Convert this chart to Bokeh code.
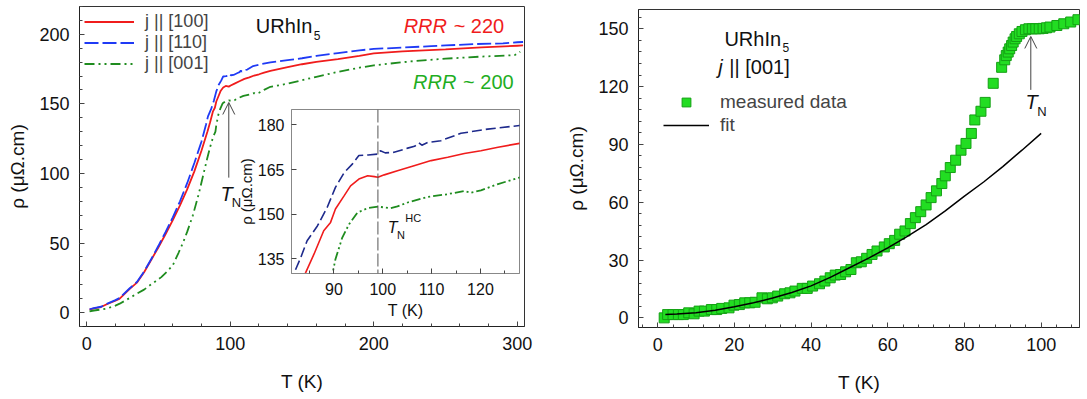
from bokeh.plotting import figure
from bokeh.models import (Range1d, SingleIntervalTicker, Legend, LegendItem, Arrow,
                          OpenHead, GridBox, Span, Row)
from bokeh.core.properties import value
from bokeh.embed import file_html
from bokeh.resources import INLINE

FONT = "Liberation Sans"

# ---------------- left panel data: rho(T) for three current directions ----------------
t_100 = [2, 5, 10, 14, 20, 23, 30, 35, 40, 45, 50, 55, 60, 65, 70, 75, 80, 84.2, 85.9, 87.9,
         89.3, 90.3, 92.1, 93.4, 95.1, 96.9, 98.3, 99, 100.3, 103, 106.4, 109.9, 113.3, 116.7,
         120.1, 123.6, 128, 140, 150, 160, 175, 190, 200, 220, 250, 275, 300, 304]
r_100 = [2.2, 3.0, 4.0, 6.0, 8.5, 10.0, 17.0, 21.5, 29.0, 38.0, 47.0, 56.5, 66.5, 77.0, 88.5,
         101.5, 116.5, 130.3, 136.5, 144.4, 147.2, 151.7, 156.2, 159.5, 161.8, 162.9, 162.6,
         162.4, 163.2, 164.6, 166.3, 168.0, 169.1, 170.4, 171.3, 172.5, 173.8, 176.5, 178.5,
         180.2, 182.2, 184.5, 186.3, 187.8, 189.2, 190.6, 191.8, 192.0]

t_110 = [2, 5, 10, 14, 20, 23, 30, 35, 40, 45, 50, 55, 60, 65, 70, 75, 80, 81.8, 83.2, 84.5,
         86.6, 88.6, 90.3, 92.1, 93.8, 95.1, 97, 99, 99.5, 100.5, 102.3, 105.1, 106.5, 107.4,
         108, 109.2, 111.9, 116, 121.5, 128, 140, 150, 160, 175, 190, 200, 220, 240, 250, 270,
         290, 300, 304]
r_110 = [2.4, 3.2, 4.2, 6.3, 9.0, 10.5, 17.5, 22.0, 29.5, 38.5, 48.0, 58.0, 68.5, 80.0, 93.0,
         107.5, 123.0, 130.0, 135.4, 141.0, 146.0, 152.2, 159.0, 164.0, 166.9, 169.7, 169.9,
         170.2, 171.3, 170.6, 170.8, 172.2, 172.8, 174.0, 173.2, 174.1, 174.7, 177.2, 178.6,
         179.8, 181.5, 182.8, 184.5, 186.5, 188.5, 189.5, 190.5, 191.5, 192.0, 193.0, 193.5,
         194.3, 194.5]

t_001 = [2, 5, 10, 14, 20, 23, 30, 35, 40, 44, 48, 52, 56, 60, 64, 67, 70, 74, 78, 81, 84, 86,
         88, 89.7, 90.3, 91.7, 93.1, 94.8, 96.9, 99, 101.6, 103, 105.1, 109.2, 113.3, 116.7,
         118, 120.1, 123.6, 128, 140, 150, 160, 175, 190, 200, 225, 250, 275, 298, 302]
r_001 = [0.8, 1.5, 2.2, 2.9, 5.0, 6.4, 10.5, 13.6, 16.5, 19.6, 22.5, 25.5, 29.5, 34.0, 43.0,
         50.0, 58.0, 70.0, 85.0, 98.0, 111.0, 119.0, 126.0, 130.0, 134.8, 142.1, 146.6, 150.5,
         152.0, 152.5, 152.0, 152.6, 153.9, 155.8, 156.7, 157.8, 157.2, 158.0, 160.1, 162.3,
         164.5, 167.0, 169.5, 173.0, 176.0, 177.7, 180.5, 182.5, 184.0, 185.0, 187.5]

# ---------------- right panel data: j || [001], measured + fit ----------------
t_meas = [1.7, 2.6, 4.0, 5.4, 6.7, 8.1, 9.5, 10.8, 12.2, 14.0, 15.4, 16.7, 18.6, 19.9, 21.3,
          22.7, 24.0, 25.4, 27.2, 28.6, 29.9, 31.3, 33.1, 34.5, 35.8, 37.7, 39.0, 40.4, 42.2,
          43.6, 45.0, 46.3, 47.7, 49.0, 50.4, 51.8, 53.1, 54.5, 55.9, 57.2, 59.1, 60.4, 61.8,
          63.1, 64.5, 65.9, 67.2, 68.6, 70.0, 71.3, 72.7, 74.1, 75.0, 76.3, 77.7, 79.1, 80.4,
          81.8, 82.7, 84.3, 85.4, 87.5, 89.7, 90.5, 90.9, 91.4, 91.8, 92.3, 92.7, 93.2, 93.6,
          94.3, 95.0, 95.9, 96.8, 97.7, 98.6, 99.5, 100.5, 101.4, 102.3, 104.1, 105.9, 107.7,
          109.6]
r_meas = [0.0, 1.7, 1.7, 1.7, 1.7, 2.6, 2.1, 3.5, 3.5, 4.3, 4.3, 4.9, 5.2, 6.6, 6.9, 7.8, 7.8,
          8.1, 10.4, 9.9, 10.4, 11.3, 12.5, 13.0, 13.9, 15.3, 15.3, 16.5, 17.7, 19.1, 20.8,
          22.2, 22.5, 23.9, 25.1, 28.6, 29.1, 30.9, 32.9, 34.7, 36.8, 38.5, 40.2, 43.4, 45.1,
          48.9, 52.0, 55.1, 58.6, 62.4, 65.9, 69.7, 73.7, 78.0, 81.8, 87.0, 90.5, 95.7, 102.7,
          107.2, 111.8, 121.7, 130.0, 133.9, 136.1, 137.9, 139.6, 141.3, 143.1, 144.8, 146.0,
          147.4, 148.6, 149.5, 150.0, 150.0, 150.0, 150.0, 150.2, 150.5, 150.9, 151.7, 152.6,
          153.5, 154.7]

t_fit = [2, 5, 10, 15, 20, 25, 30, 35, 40, 45, 50, 55, 60, 65, 70, 75, 80, 85, 90, 95, 100]
r_fit = [1.7, 2.0, 2.7, 4.0, 5.8, 7.8, 10.3, 13.2, 16.6, 21.0, 26.0, 31.0, 36.3, 42.2, 48.4,
         55.5, 63.2, 70.5, 78.5, 87.0, 95.7]

T_NEEL_HC = 99

RED = "#f01c1c"
BLUE = "#1f3af5"
NAVY = "#1e2a8c"
GREEN = "#1f8c1f"
LIME = "#22dd22"
LIME_EDGE = "#14a014"
AXC = "#222222"
TXT = "#111111"


def style(p, tick_fs, lab_fs, xstand=18, ystand=8):
    p.toolbar_location = None
    p.xgrid.visible = False
    p.ygrid.visible = False
    p.outline_line_color = "#333333"
    p.outline_line_width = 1
    p.background_fill_color = "white"
    for ax in list(p.xaxis) + list(p.yaxis):
        ax.major_label_text_font = FONT
        ax.major_label_text_font_size = tick_fs
        ax.major_label_text_color = TXT
        ax.axis_label_text_font = FONT
        ax.axis_label_text_font_size = lab_fs
        ax.axis_label_text_font_style = "normal"
        ax.axis_label_text_color = TXT
        ax.axis_line_color = AXC
        ax.major_tick_line_color = "#444444"
        ax.minor_tick_line_color = "#444444"
        ax.major_tick_in = 5
        ax.major_tick_out = 0
        ax.minor_tick_in = 3
        ax.minor_tick_out = 0
        ax.major_label_standoff = 10
    p.xaxis.axis_label_standoff = xstand
    p.yaxis.axis_label_standoff = ystand


def txt(p, x, y, s, size, style_="normal", color=TXT, xoff=0):
    p.text(x=[x], y=[y], text=[s], x_offset=xoff, text_font=value(FONT),
           text_font_size=size, text_font_style=style_, text_baseline="middle",
           text_align="left", text_color=color)


# ====================== LEFT PANEL ======================
LB, RB, TB, BB = 79, 36, 6, 73
p1 = figure(width=560, height=399, output_backend="svg", toolbar_location=None,
            x_range=Range1d(-5, 305), y_range=Range1d(-10, 220),
            min_border_left=LB, min_border_right=RB, min_border_top=TB, min_border_bottom=BB,
            x_axis_label="T (K)", y_axis_label="ρ (μΩ.cm)")
style(p1, "18px", "19px")
p1.xaxis.ticker = SingleIntervalTicker(interval=100, num_minor_ticks=5)
p1.yaxis.ticker = SingleIntervalTicker(interval=50, num_minor_ticks=5)

l1 = p1.line(t_100, r_100, line_color=RED, line_width=1.8)
l2 = p1.line(t_110, r_110, line_color=BLUE, line_width=1.8, line_dash="14 4")
l3 = p1.line(t_001, r_001, line_color=GREEN, line_width=1.8, line_dash="10 4 2 4 2 4")

leg1 = Legend(items=[LegendItem(label="j || [100]", renderers=[l1]),
                     LegendItem(label="j || [110]", renderers=[l2]),
                     LegendItem(label="j || [001]", renderers=[l3])],
              location="top_left", margin=5, padding=6, spacing=0,
              glyph_width=50, glyph_height=21, label_height=21, label_standoff=11,
              label_text_font=FONT, label_text_font_size="18px",
              border_line_color=None, background_fill_alpha=0)
p1.add_layout(leg1)

txt(p1, 117.8, 205.7, "URhIn", "20px")
txt(p1, 117.8, 199.5, "5", "12px", xoff=58)
txt(p1, 220.8, 205.7, "RRR", "20px", "italic", RED)
txt(p1, 220.8, 205.7, "~ 220", "20px", "normal", RED, xoff=50)
txt(p1, 227.4, 165.5, "RRR", "20px", "italic", "#1fae1f")
txt(p1, 227.4, 165.5, "~ 200", "20px", "normal", "#1fae1f", xoff=50)
p1.add_layout(Arrow(end=OpenHead(size=12, line_color="#444444", line_width=1),
                    x_start=99, y_start=97, x_end=99, y_end=151,
                    line_color="#444444", line_width=1))
txt(p1, 93.3, 85.5, "T", "20px", "italic")
txt(p1, 101.0, 79.0, "N", "13px")

# ====================== INSET (frame aligned to share p1 borders) ======================
ins = figure(width=LB + 228 + RB, height=TB + 164 + BB, output_backend="svg",
             toolbar_location=None,
             x_range=Range1d(81.3, 128), y_range=Range1d(130, 185.2),
             min_border_left=LB, min_border_right=RB, min_border_top=TB, min_border_bottom=BB,
             x_axis_label="T (K)", y_axis_label="ρ (μΩ.cm)")
style(ins, "16px", "16px", xstand=4, ystand=0)
ins.yaxis.axis_label_text_font_size = "15px"
ins.border_fill_color = None
ins.outline_line_color = "#888888"
ins.xaxis.ticker = SingleIntervalTicker(interval=10, num_minor_ticks=2)
ins.yaxis.ticker = SingleIntervalTicker(interval=15, num_minor_ticks=0)
ins.xaxis.major_label_standoff = 9
ins.yaxis.major_label_standoff = 7
ins.xaxis.axis_line_color = "#888888"
ins.yaxis.axis_line_color = "#888888"
ins.line(t_110, r_110, line_color=NAVY, line_width=1.6, line_dash="10 4")
ins.line(t_100, r_100, line_color=RED, line_width=1.6)
ins.line(t_001, r_001, line_color=GREEN, line_width=1.8, line_dash="9 3 2 3 2 3")
ins.add_layout(Span(location=T_NEEL_HC, dimension="height", line_color="#555555",
                    line_width=1, line_dash="13 3"))
txt(ins, 101.0, 145.4, "T", "16px", "italic")
txt(ins, 102.9, 142.9, "N", "11px")
txt(ins, 104.6, 148.8, "HC", "11px")
ins.margin = (109 - TB, 0, 0, 291 - LB)

left = GridBox(children=[(p1, 0, 0), (ins, 0, 0)])

# ====================== RIGHT PANEL ======================
p2 = figure(width=527, height=399, output_backend="svg", toolbar_location=None,
            x_range=Range1d(-5, 110), y_range=Range1d(-5, 160),
            min_border_left=78, min_border_right=8, min_border_top=9, min_border_bottom=72,
            x_axis_label="T (K)", y_axis_label="ρ (μΩ.cm)")
style(p2, "18px", "19px")
p2.xaxis.ticker = SingleIntervalTicker(interval=20, num_minor_ticks=5)
p2.yaxis.ticker = SingleIntervalTicker(interval=30, num_minor_ticks=5)

sq = p2.scatter(t_meas, r_meas, marker="square", size=10, fill_color=LIME,
                line_color=LIME_EDGE, line_width=1)
fl = p2.line(t_fit, r_fit, line_color="black", line_width=1.5)

leg2 = Legend(items=[LegendItem(label="measured data", renderers=[sq]),
                     LegendItem(label="fit", renderers=[fl])],
              location=(25, 191), margin=0, padding=0, spacing=1,
              glyph_width=46, glyph_height=22, label_height=22, label_standoff=11,
              label_text_font=FONT, label_text_font_size="19px",
              border_line_color=None, background_fill_alpha=0)
p2.add_layout(leg2)

txt(p2, 17.4, 144.6, "URhIn", "20px")
txt(p2, 17.4, 140.3, "5", "12px", xoff=58)
txt(p2, 15.8, 130, "j", "20px", "italic")
txt(p2, 15.8, 130, "|| [001]", "20px", xoff=11)
p2.add_layout(Arrow(end=OpenHead(size=12, line_color="#444444", line_width=1),
                    x_start=97.3, y_start=118.3, x_end=97.3, y_end=146,
                    line_color="#444444", line_width=1))
txt(p2, 95.9, 111.8, "T", "20px", "italic")
txt(p2, 99.0, 107.3, "N", "13px")

layout = Row(children=[left, p2])

open("out.html", "w").write(file_html(layout, INLINE))
